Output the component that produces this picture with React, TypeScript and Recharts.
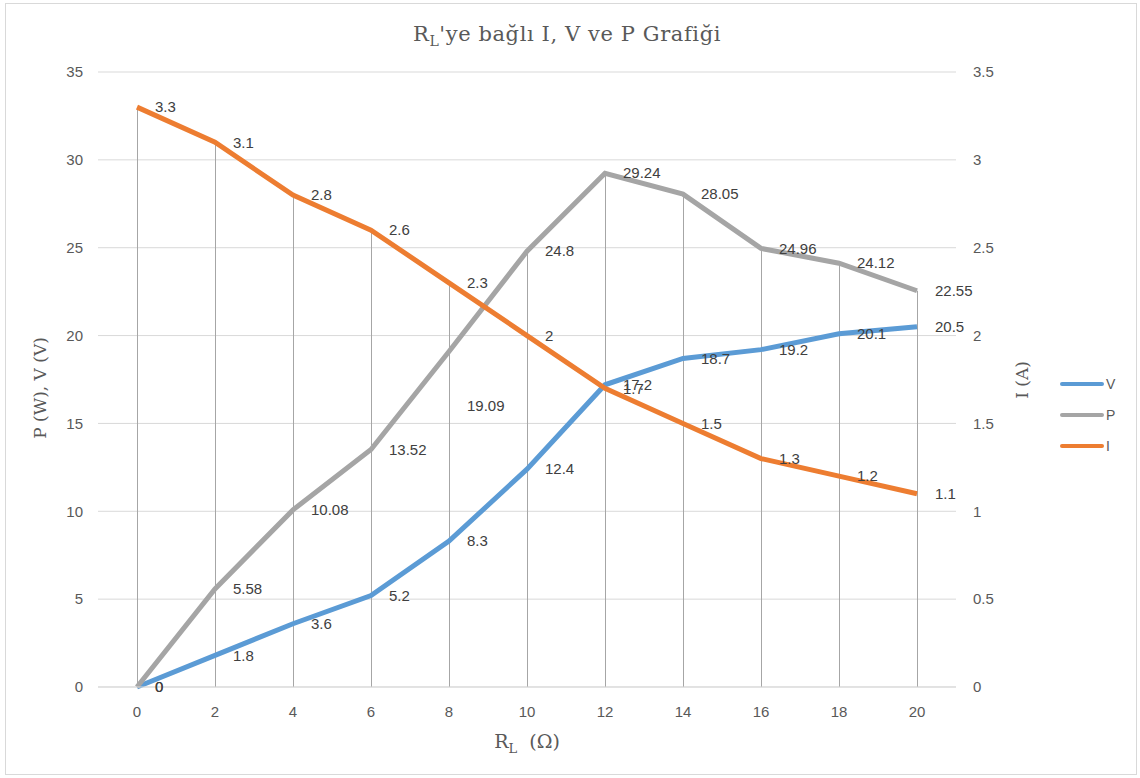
import React from "react";
import { ComposedChart, Line, Bar, XAxis, YAxis, CartesianGrid, LabelList } from "recharts";

const R_VALUES = [0, 2, 4, 6, 8, 10, 12, 14, 16, 18, 20];
const V_VALUES = [0, 1.8, 3.6, 5.2, 8.3, 12.4, 17.2, 18.7, 19.2, 20.1, 20.5];
const P_VALUES = [0, 5.58, 10.08, 13.52, 19.09, 24.8, 29.24, 28.05, 24.96, 24.12, 22.55];
const I_VALUES = [3.3, 3.1, 2.8, 2.6, 2.3, 2, 1.7, 1.5, 1.3, 1.2, 1.1];
const SERIES_NAMES = ["V", "P", "I"];
const LEFT_TICKS = [0, 5, 10, 15, 20, 25, 30, 35];
const RIGHT_TICKS = [0, 0.5, 1, 1.5, 2, 2.5, 3, 3.5];

const data = R_VALUES.map((r, i) => ({
  R: r,
  V: V_VALUES[i],
  P: P_VALUES[i],
  I: I_VALUES[i],
  drop: Math.max(V_VALUES[i], P_VALUES[i], I_VALUES[i] * 10),
}));

const COLORS: Record<string, string> = { V: "#5b9bd5", P: "#a5a5a5", I: "#ed7d31" };
const SANS = "'Liberation Sans', Arial, sans-serif";
const SERIF = "'DejaVu Serif', serif";

const makeLabel = (series: string) => (props: any) => {
  const { x, y, value, index } = props;
  const off = series === "P" && index === 4 ? 54 : 0;
  return (
    <text x={x + 18} y={y + off} dy="0.35em" fontSize={15} fill="#404040" fontFamily={SANS}>
      {value}
    </text>
  );
};

export default function App() {
  return (
    <div style={{ position: "absolute", left: 0, top: 0, width: 1140, height: 778, background: "#fff" }}>
      <div
        style={{
          position: "absolute",
          left: 5,
          top: 3,
          width: 1132,
          height: 772,
          border: "1px solid #d9d9d9",
          boxSizing: "border-box",
        }}
      />
      <div style={{ position: "absolute", left: 0, top: 0 }}>
        <ComposedChart
          width={1140}
          height={778}
          data={data}
          margin={{ top: 72, right: 124, bottom: 61, left: 38 }}
        >
          <CartesianGrid yAxisId="left" vertical={false} stroke="#d9d9d9" />
          <XAxis
            dataKey="R"
            type="category"
            tickLine={false}
            axisLine={{ stroke: "#d9d9d9" }}
            tickSize={0}
            tickMargin={19}
            height={30}
            tick={{ fill: "#595959", fontSize: 15, fontFamily: SANS }}
          />
          <YAxis
            yAxisId="left"
            orientation="left"
            domain={[0, 35]}
            ticks={LEFT_TICKS}
            width={60}
            axisLine={false}
            tickLine={false}
            tickSize={0}
            tickMargin={15}
            tick={{ fill: "#595959", fontSize: 15, fontFamily: SANS }}
          />
          <YAxis
            yAxisId="right"
            orientation="right"
            domain={[0, 3.5]}
            ticks={RIGHT_TICKS}
            width={60}
            axisLine={false}
            tickLine={false}
            tickSize={0}
            tickMargin={17}
            tick={{ fill: "#595959", fontSize: 15, fontFamily: SANS }}
          />
          <Bar
            yAxisId="left"
            dataKey="drop"
            barSize={1}
            fill="#a6a6a6"
            isAnimationActive={false}
            legendType="none"
          />
          <Line
            yAxisId="left"
            dataKey="V"
            name="V"
            stroke={COLORS.V}
            strokeWidth={5}
            dot={false}
            isAnimationActive={false}
          >
            <LabelList dataKey="V" content={makeLabel("V")} />
          </Line>
          <Line
            yAxisId="left"
            dataKey="P"
            name="P"
            stroke={COLORS.P}
            strokeWidth={5}
            dot={false}
            isAnimationActive={false}
          >
            <LabelList dataKey="P" content={makeLabel("P")} />
          </Line>
          <Line
            yAxisId="right"
            dataKey="I"
            name="I"
            stroke={COLORS.I}
            strokeWidth={5}
            dot={false}
            isAnimationActive={false}
          >
            <LabelList dataKey="I" content={makeLabel("I")} />
          </Line>
        </ComposedChart>
      </div>
      <div
        style={{
          position: "absolute",
          left: 1060,
          top: 368,
          width: 70,
          fontFamily: SANS,
          fontSize: 14,
          color: "#595959",
        }}
      >
        {SERIES_NAMES.map((name) => (
          <div key={name} style={{ display: "flex", alignItems: "center", height: 31 }}>
            <svg width={44} height={10}>
              <line x1={2} y1={5} x2={42} y2={5} stroke={COLORS[name]} strokeWidth={4} strokeLinecap="round" />
            </svg>
            <span style={{ marginLeft: 2 }}>{name}</span>
          </div>
        ))}
      </div>
      <svg
        width={1140}
        height={778}
        style={{ position: "absolute", left: 0, top: 0, pointerEvents: "none" }}
      >
        <text
          x={567}
          y={41}
          textAnchor="middle"
          fontFamily={SERIF}
          fontSize={21}
          letterSpacing={0.6}
          fill="#595959"
        >
          R<tspan dy={5} fontSize={14}>L</tspan>
          <tspan dy={-5}>'ye bağlı I, V ve P Grafiği</tspan>
        </text>
        <text
          x={527}
          y={748}
          textAnchor="middle"
          fontFamily={SERIF}
          fontSize={19}
          fill="#595959"
          style={{ whiteSpace: "pre" }}
        >
          R<tspan dy={5} fontSize={13}>L</tspan>
          <tspan dy={-5}>{"  (Ω)"}</tspan>
        </text>
        <text
          x={46}
          y={388}
          textAnchor="middle"
          fontFamily={SERIF}
          fontSize={17}
          fill="#595959"
          transform="rotate(-90 46 388)"
        >
          P (W), V (V)
        </text>
        <text
          x={1028}
          y={380}
          textAnchor="middle"
          fontFamily={SERIF}
          fontSize={17}
          fill="#595959"
          transform="rotate(-90 1028 380)"
        >
          I (A)
        </text>
      </svg>
    </div>
  );
}
